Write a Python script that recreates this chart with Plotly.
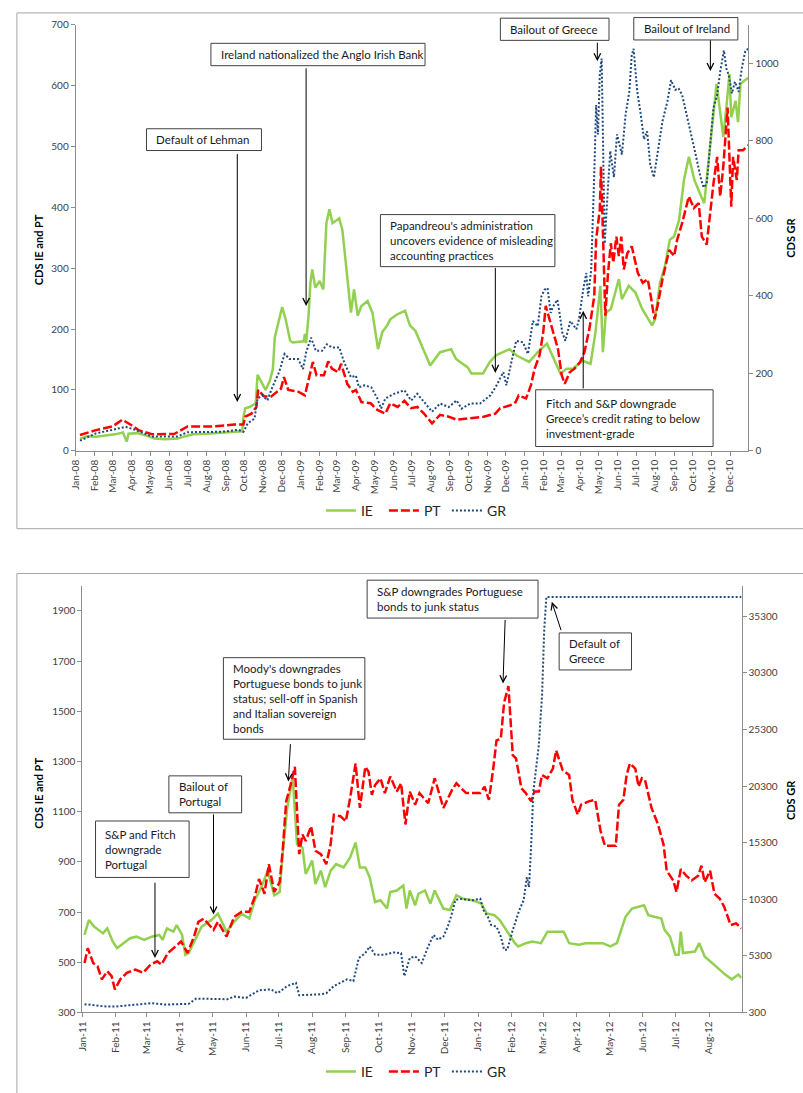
import plotly.graph_objects as go

W, H = 803, 1093
OFF = 0  # body margin is removed in the page, so figure pixels equal page pixels
FONT = "Lato"

# ---------------- 2008-2010 panel ----------------
top_ie_dates = [
    "2008-01-08", "2008-01-20", "2008-02-03", "2008-02-20", "2008-03-05", "2008-03-18", "2008-03-24",
    "2008-03-27", "2008-04-10", "2008-04-25", "2008-05-08", "2008-05-25", "2008-06-15", "2008-06-28",
    "2008-07-10", "2008-08-01", "2008-08-20", "2008-09-10", "2008-09-28", "2008-09-30", "2008-10-03",
    "2008-10-10", "2008-10-20", "2008-10-23", "2008-10-30", "2008-11-05", "2008-11-12", "2008-11-17",
    "2008-11-20", "2008-11-25", "2008-12-02", "2008-12-08", "2008-12-15", "2008-12-19", "2009-01-06",
    "2009-01-08", "2009-01-10", "2009-01-14", "2009-01-17", "2009-01-20", "2009-01-25", "2009-02-01",
    "2009-02-07", "2009-02-12", "2009-02-17", "2009-02-22", "2009-03-05", "2009-03-10", "2009-03-15",
    "2009-03-24", "2009-03-29", "2009-04-04", "2009-04-10", "2009-04-20", "2009-04-28", "2009-05-07",
    "2009-05-14", "2009-05-22", "2009-05-27", "2009-06-07", "2009-06-20", "2009-06-28", "2009-07-07",
    "2009-07-20", "2009-07-31", "2009-08-16", "2009-09-03", "2009-09-11", "2009-09-30", "2009-10-06",
    "2009-10-25", "2009-11-05", "2009-11-15", "2009-12-07", "2009-12-18", "2010-01-08", "2010-01-22",
    "2010-02-06", "2010-02-20", "2010-02-28", "2010-03-10", "2010-03-20", "2010-04-05", "2010-04-18",
    "2010-04-26", "2010-04-30", "2010-05-04", "2010-05-08", "2010-05-13", "2010-05-21", "2010-06-03",
    "2010-06-08", "2010-06-19", "2010-06-30", "2010-07-11", "2010-07-27", "2010-08-01", "2010-08-09",
    "2010-08-17", "2010-08-25", "2010-09-01", "2010-09-09", "2010-09-17", "2010-09-25", "2010-10-04",
    "2010-10-15", "2010-10-20", "2010-10-25", "2010-11-01", "2010-11-09", "2010-11-14", "2010-11-20",
    "2010-11-25", "2010-11-30", "2010-12-03", "2010-12-10", "2010-12-14", "2010-12-18", "2010-12-24",
    "2010-12-31",
]
top_ie = [
    20, 24, 23, 25, 27, 30, 15,
    28, 29, 25, 20, 19, 20, 24,
    27, 28, 29, 30, 32, 55, 70,
    72, 78, 125, 110, 100, 115, 135,
    186, 209, 236, 215, 181, 178, 180,
    192, 177, 222, 276, 298, 268, 279,
    265, 374, 397, 374, 382, 363, 314,
    227, 265, 222, 238, 246, 227, 167,
    195, 206, 216, 224, 230, 206, 197,
    167, 140, 162, 167, 151, 137, 127,
    127, 146, 157, 167, 157, 146, 162,
    176, 146, 127, 135, 135, 148, 143,
    195, 238, 271, 162, 227, 233, 282,
    249, 271, 260, 233, 206, 216, 276,
    303, 347, 352, 379, 445, 483, 445,
    418, 407, 456, 521, 603, 564, 516,
    564, 619, 548, 575, 540, 603, 608,
    613,
]

top_pt_dates = [
    "2008-01-08", "2008-02-03", "2008-03-01", "2008-03-17", "2008-04-01", "2008-04-12", "2008-05-05",
    "2008-06-10", "2008-07-01", "2008-08-10", "2008-09-15", "2008-09-30", "2008-10-03", "2008-10-13",
    "2008-10-21", "2008-10-24", "2008-11-03", "2008-11-14", "2008-11-30", "2008-12-05", "2008-12-12",
    "2008-12-28", "2009-01-08", "2009-01-16", "2009-01-21", "2009-01-27", "2009-02-08", "2009-02-15",
    "2009-02-21", "2009-03-03", "2009-03-08", "2009-03-18", "2009-03-27", "2009-04-01", "2009-04-10",
    "2009-04-25", "2009-05-06", "2009-05-19", "2009-05-27", "2009-06-08", "2009-06-19", "2009-06-30",
    "2009-07-10", "2009-07-21", "2009-08-03", "2009-08-16", "2009-08-30", "2009-09-12", "2009-10-04",
    "2009-10-26", "2009-11-14", "2009-11-22", "2009-12-09", "2009-12-17", "2009-12-22", "2010-01-03",
    "2010-01-11", "2010-01-17", "2010-01-25", "2010-01-31", "2010-02-04", "2010-02-10", "2010-02-19",
    "2010-02-24", "2010-03-02", "2010-03-07", "2010-03-15", "2010-03-23", "2010-04-01", "2010-04-08",
    "2010-04-16", "2010-04-24", "2010-04-27", "2010-05-03", "2010-05-05", "2010-05-08", "2010-05-12",
    "2010-05-16", "2010-05-21", "2010-05-25", "2010-05-30", "2010-06-03", "2010-06-07", "2010-06-11",
    "2010-06-17", "2010-06-24", "2010-07-04", "2010-07-12", "2010-07-20", "2010-07-25", "2010-07-31",
    "2010-08-05", "2010-08-13", "2010-08-24", "2010-09-01", "2010-09-06", "2010-09-14", "2010-09-25",
    "2010-10-03", "2010-10-11", "2010-10-16", "2010-10-24", "2010-10-30", "2010-11-04", "2010-11-10",
    "2010-11-15", "2010-11-20", "2010-11-24", "2010-11-27", "2010-12-03", "2010-12-06", "2010-12-12",
    "2010-12-15", "2010-12-22", "2010-12-31",
]
top_pt = [
    26, 34, 40, 51, 42, 34, 27,
    28, 40, 40, 43, 43, 56, 61,
    72, 100, 89, 89, 102, 121, 100,
    97, 91, 127, 146, 124, 124, 147,
    135, 129, 143, 110, 97, 100, 80,
    78, 67, 61, 78, 72, 82, 70,
    72, 61, 45, 59, 56, 51, 53,
    56, 61, 70, 75, 80, 91, 86,
    108, 135, 157, 195, 238, 216, 184,
    167, 124, 110, 129, 135, 146, 162,
    200, 254, 347, 396, 467, 374, 222,
    287, 341, 309, 352, 320, 352, 298,
    325, 336, 292, 276, 282, 254, 216,
    238, 282, 330, 320, 347, 374, 418,
    399, 407, 352, 339, 396, 439, 483,
    418, 467, 516, 564, 401, 483, 445,
    494, 494, 502,
]

top_gr_dates = [
    "2008-01-08", "2008-02-03", "2008-03-01", "2008-03-22", "2008-04-07", "2008-05-04", "2008-06-15",
    "2008-07-01", "2008-08-25", "2008-09-22", "2008-09-30", "2008-10-07", "2008-10-18", "2008-10-23",
    "2008-10-31", "2008-11-08", "2008-11-16", "2008-11-27", "2008-12-06", "2008-12-14", "2008-12-28",
    "2009-01-05", "2009-01-10", "2009-01-18", "2009-01-26", "2009-02-05", "2009-02-13", "2009-02-21",
    "2009-03-05", "2009-03-13", "2009-03-24", "2009-04-01", "2009-04-06", "2009-04-15", "2009-04-26",
    "2009-05-06", "2009-05-12", "2009-05-19", "2009-06-02", "2009-06-19", "2009-06-30", "2009-07-10",
    "2009-07-21", "2009-08-03", "2009-08-16", "2009-08-30", "2009-09-12", "2009-09-20", "2009-10-04",
    "2009-10-20", "2009-11-06", "2009-11-16", "2009-11-27", "2009-12-02", "2009-12-10", "2009-12-18",
    "2009-12-29", "2010-01-06", "2010-01-14", "2010-01-22", "2010-01-28", "2010-02-02", "2010-02-07",
    "2010-02-12", "2010-02-16", "2010-02-23", "2010-02-26", "2010-03-03", "2010-03-08", "2010-03-16",
    "2010-03-26", "2010-03-30", "2010-04-06", "2010-04-11", "2010-04-14", "2010-04-19", "2010-04-24",
    "2010-04-27", "2010-04-30", "2010-05-03", "2010-05-06", "2010-05-08", "2010-05-11", "2010-05-15",
    "2010-05-20", "2010-05-26", "2010-05-31", "2010-06-08", "2010-06-14", "2010-06-20", "2010-06-24",
    "2010-06-27", "2010-07-03", "2010-07-08", "2010-07-14", "2010-07-19", "2010-07-24", "2010-07-30",
    "2010-08-05", "2010-08-13", "2010-08-21", "2010-08-27", "2010-09-03", "2010-09-08", "2010-09-14",
    "2010-09-19", "2010-09-27", "2010-10-06", "2010-10-14", "2010-10-19", "2010-10-24", "2010-10-30",
    "2010-11-04", "2010-11-10", "2010-11-15", "2010-11-21", "2010-11-25", "2010-11-29", "2010-12-04",
    "2010-12-09", "2010-12-15", "2010-12-20", "2010-12-26", "2010-12-31",
]
top_gr = [
    26, 45, 54, 62, 54, 37, 37,
    48, 49, 54, 49, 71, 83, 135,
    143, 130, 164, 203, 250, 237, 237,
    211, 254, 292, 258, 258, 275, 267,
    267, 228, 190, 194, 164, 169, 164,
    135, 109, 135, 147, 156, 130, 147,
    126, 101, 122, 113, 130, 109, 122,
    122, 143, 169, 203, 169, 228, 284,
    280, 250, 335, 322, 399, 416, 420,
    356, 373, 390, 361, 305, 284, 335,
    314, 339, 416, 459, 399, 467, 714,
    893, 817, 970, 1013, 800, 535, 646,
    774, 706, 817, 765, 868, 927, 1021,
    1038, 927, 876, 804, 825, 740, 706,
    765, 851, 902, 957, 932, 936, 919,
    885, 834, 765, 706, 680, 689, 791,
    885, 919, 979, 1034, 987, 970, 923,
    953, 927, 987, 1034, 1038,
]

# ---------------- 2011-2012 panel ----------------
bot_ie_dates = [
    "2011-01-03", "2011-01-07", "2011-01-12", "2011-01-20", "2011-01-24", "2011-01-29", "2011-02-02",
    "2011-02-08", "2011-02-14", "2011-02-20", "2011-02-27", "2011-03-06", "2011-03-13", "2011-03-16",
    "2011-03-20", "2011-03-26", "2011-03-29", "2011-04-03", "2011-04-06", "2011-04-09", "2011-04-15",
    "2011-04-21", "2011-04-30", "2011-05-06", "2011-05-14", "2011-05-21", "2011-05-28", "2011-06-04",
    "2011-06-09", "2011-06-15", "2011-06-21", "2011-06-27", "2011-07-02", "2011-07-05", "2011-07-09",
    "2011-07-14", "2011-07-18", "2011-07-23", "2011-07-26", "2011-08-01", "2011-08-04", "2011-08-09",
    "2011-08-13", "2011-08-18", "2011-08-23", "2011-08-30", "2011-09-05", "2011-09-10", "2011-09-14",
    "2011-09-19", "2011-09-23", "2011-09-28", "2011-10-03", "2011-10-09", "2011-10-12", "2011-10-18",
    "2011-10-24", "2011-10-27", "2011-10-30", "2011-11-04", "2011-11-07", "2011-11-13", "2011-11-18",
    "2011-11-22", "2011-11-30", "2011-12-06", "2011-12-12", "2011-12-18", "2011-12-27", "2012-01-04",
    "2012-01-09", "2012-01-16", "2012-01-21", "2012-01-27", "2012-02-01", "2012-02-04", "2012-02-07",
    "2012-02-14", "2012-02-20", "2012-02-28", "2012-03-05", "2012-03-13", "2012-03-20", "2012-03-25",
    "2012-04-03", "2012-04-09", "2012-04-25", "2012-05-02", "2012-05-08", "2012-05-11", "2012-05-16",
    "2012-05-22", "2012-06-02", "2012-06-06", "2012-06-18", "2012-06-21", "2012-06-26", "2012-07-01",
    "2012-07-04", "2012-07-06", "2012-07-08", "2012-07-19", "2012-07-23", "2012-07-28", "2012-08-04",
    "2012-08-10", "2012-08-16", "2012-08-22", "2012-08-28", "2012-08-31",
]
bot_ie = [
    609, 668, 642, 615, 635, 583, 556,
    576, 596, 602, 589, 602, 609, 589,
    635, 622, 648, 609, 530, 537, 589,
    642, 668, 694, 622, 661, 694, 674,
    747, 799, 865, 767, 780, 944, 1115,
    1240, 970, 957, 852, 905, 812, 865,
    799, 865, 891, 878, 918, 977, 878,
    878, 839, 740, 747, 714, 780, 786,
    806, 714, 786, 727, 773, 786, 734,
    786, 714, 708, 767, 753, 747, 734,
    694, 688, 668, 629, 596, 576, 563,
    576, 583, 576, 622, 622, 622, 576,
    570, 576, 576, 563, 576, 615, 681,
    714, 727, 688, 674, 629, 602, 530,
    530, 622, 537, 543, 576, 523, 497,
    471, 451, 432, 451, 438,
]

bot_pt_dates = [
    "2011-01-03", "2011-01-06", "2011-01-11", "2011-01-15", "2011-01-19", "2011-01-24", "2011-01-28",
    "2011-01-31", "2011-02-05", "2011-02-11", "2011-02-19", "2011-02-26", "2011-03-05", "2011-03-11",
    "2011-03-15", "2011-03-21", "2011-03-28", "2011-04-02", "2011-04-08", "2011-04-14", "2011-04-18",
    "2011-04-23", "2011-05-02", "2011-05-06", "2011-05-14", "2011-05-21", "2011-05-28", "2011-06-04",
    "2011-06-09", "2011-06-13", "2011-06-18", "2011-06-22", "2011-06-27", "2011-07-02", "2011-07-05",
    "2011-07-08", "2011-07-12", "2011-07-16", "2011-07-20", "2011-07-23", "2011-07-26", "2011-07-31",
    "2011-08-04", "2011-08-09", "2011-08-14", "2011-08-18", "2011-08-21", "2011-08-27", "2011-09-01",
    "2011-09-05", "2011-09-10", "2011-09-14", "2011-09-19", "2011-09-22", "2011-09-25", "2011-09-28",
    "2011-10-03", "2011-10-07", "2011-10-12", "2011-10-18", "2011-10-22", "2011-10-26", "2011-10-30",
    "2011-11-04", "2011-11-08", "2011-11-16", "2011-11-22", "2011-11-30", "2011-12-08", "2011-12-12",
    "2011-12-21", "2012-01-03", "2012-01-07", "2012-01-11", "2012-01-15", "2012-01-18", "2012-01-22",
    "2012-01-25", "2012-01-29", "2012-02-02", "2012-02-05", "2012-02-10", "2012-02-14", "2012-02-19",
    "2012-02-22", "2012-02-26", "2012-02-29", "2012-03-05", "2012-03-10", "2012-03-13", "2012-03-19",
    "2012-03-25", "2012-03-28", "2012-04-02", "2012-04-05", "2012-04-12", "2012-04-18", "2012-04-23",
    "2012-04-27", "2012-05-07", "2012-05-10", "2012-05-14", "2012-05-17", "2012-05-20", "2012-05-25",
    "2012-05-28", "2012-05-31", "2012-06-03", "2012-06-09", "2012-06-15", "2012-06-20", "2012-06-23",
    "2012-06-29", "2012-07-02", "2012-07-06", "2012-07-11", "2012-07-16", "2012-07-22", "2012-07-25",
    "2012-07-28", "2012-08-02", "2012-08-06", "2012-08-11", "2012-08-15", "2012-08-21", "2012-08-26",
    "2012-08-31",
]
bot_pt = [
    497, 556, 497, 484, 432, 464, 445,
    392, 432, 458, 471, 458, 491, 504,
    491, 537, 563, 583, 537, 602, 661,
    674, 629, 661, 602, 681, 701, 701,
    760, 832, 773, 891, 780, 819, 957,
    1141, 1206, 1279, 931, 1009, 983, 1042,
    944, 931, 891, 970, 1088, 1082, 1062,
    1154, 1292, 1115, 1279, 1259, 1167, 1206,
    1233, 1174, 1240, 1180, 1213, 1049, 1180,
    1128, 1174, 1134, 1233, 1115, 1187, 1213,
    1174, 1174, 1200, 1147, 1272, 1384, 1391,
    1535, 1600, 1325, 1312, 1193, 1174, 1141,
    1180, 1180, 1246, 1233, 1272, 1344, 1266,
    1246, 1147, 1088, 1128, 1141, 1147, 1023,
    964, 964, 1128, 1147, 1246, 1292, 1272,
    1200, 1233, 1226, 1115, 1049, 970, 865,
    826, 780, 871, 845, 826, 845, 885,
    819, 865, 773, 753, 721, 648, 655,
    635,
]

bot_gr_dates = [
    "2011-01-03", "2011-01-11", "2011-01-23", "2011-02-01", "2011-02-22", "2011-03-06", "2011-03-18",
    "2011-04-09", "2011-04-16", "2011-05-06", "2011-05-15", "2011-05-21", "2011-06-01", "2011-06-13",
    "2011-06-24", "2011-06-30", "2011-07-09", "2011-07-17", "2011-07-20", "2011-08-09", "2011-08-14",
    "2011-08-21", "2011-09-02", "2011-09-08", "2011-09-13", "2011-09-19", "2011-09-23", "2011-09-28",
    "2011-10-07", "2011-10-15", "2011-10-22", "2011-10-25", "2011-10-30", "2011-11-04", "2011-11-10",
    "2011-11-16", "2011-11-21", "2011-11-25", "2011-11-30", "2011-12-04", "2011-12-07", "2011-12-11",
    "2011-12-15", "2011-12-27", "2012-01-03", "2012-01-06", "2012-01-10", "2012-01-13", "2012-01-18",
    "2012-01-22", "2012-01-25", "2012-01-28", "2012-02-02", "2012-02-08", "2012-02-12", "2012-02-15",
    "2012-02-17", "2012-02-19", "2012-02-21", "2012-02-26", "2012-02-29", "2012-03-02", "2012-03-04",
    "2012-08-31",
]
bot_gr = [
    1034, 947, 824, 824, 973, 1122, 999,
    1060, 1524, 1524, 1471, 1699, 1585, 2258,
    2345, 1996, 2634, 2922, 1821, 1908, 1996,
    2634, 3220, 3071, 5108, 5545, 6131, 5405,
    5405, 5606, 5545, 3508, 5108, 5256, 4671,
    6131, 7153, 6716, 7005, 7879, 8753, 10213,
    10353, 10213, 10353, 9338, 8753, 8027, 7879,
    7005, 5842, 5842, 7590, 9338, 10213, 12250,
    11375, 15160, 19830, 23902, 28273, 34102, 37015,
    37015,
]

series_names = ["IE", "PT", "GR"]
series_colors = ["#92D050", "#FF0000", "#1F497D"]

# annotation texts and where the arrows point (date, value on the left axis)
top_notes = [
    "Default of Lehman",
    "Ireland nationalized the Anglo Irish Bank",
    "Papandreou's administration<br>uncovers evidence of misleading<br>accounting practices",
    "Bailout of Greece",
    "Bailout of Ireland",
    "Fitch and S&P downgrade<br>Greece’s credit rating to below<br>investment-grade",
]
top_arrow_head = [("2008-09-20", 80), ("2009-01-10", 238), ("2009-11-14", 128),
                  ("2010-04-29", 640), ("2010-10-30", 624), ("2010-04-06", 230)]
top_arrow_tail = [("2008-09-20", 490), ("2009-01-10", 631), ("2009-11-14", 303),
                  ("2010-04-29", 673), ("2010-10-30", 677), ("2010-04-06", 100)]
top_boxes = [(140.7, 124, 256.7, 146), (205.7, 37.7, 421.7, 60.3), (376.7, 210.7, 552.7, 263.3),
             (497.7, 12.3, 607.3, 34.7), (632.3, 11.7, 737.3, 34.3), (533.3, 387.7, 712.3, 445)]

bot_notes = [
    "S&P and Fitch<br>downgrade<br>Portugal",
    "Bailout of<br>Portugal",
    "Moody's downgrades<br>Portuguese bonds to junk<br>status; sell-off in Spanish<br>and Italian sovereign<br>bonds",
    "S&P downgrades Portuguese<br>bonds to junk status",
    "Default of<br>Greece",
]
bot_arrow_head = [("2011-03-09", 517), ("2011-05-02", 690), ("2011-07-10", 1220),
                  ("2012-01-24", 1611), ("2012-03-09", 1936)]
bot_arrow_tail = [("2011-03-09", 823), ("2011-05-02", 1095), ("2011-07-12", 1375),
                  ("2012-01-26", 1870), ("2012-03-18", 1817)]
bot_boxes = [(89.3, 823.3, 183.7, 880.3), (163.3, 777.7, 236.7, 815), (218.3, 658.3, 361, 740.7),
             (363.3, 580, 535.7, 618.3), (557, 633.3, 630, 670.7)]


def px(x):
    return (x - OFF) / W


def py(y):
    return 1 - (y - OFF) / H


fig = go.Figure()

panels = [
    ([top_ie_dates, top_pt_dates, top_gr_dates], [top_ie, top_pt, top_gr], "x", "y", "y2", "legend"),
    ([bot_ie_dates, bot_pt_dates, bot_gr_dates], [bot_ie, bot_pt, bot_gr], "x2", "y3", "y4", "legend2"),
]
dashes = ["solid", "9px,3px", "2px,2px"]
widths = [2.5, 2.5, 2]
for dates, vals, xa, ya_left, ya_right, leg in panels:
    for i in range(3):
        fig.add_trace(go.Scatter(
            x=dates[i], y=vals[i], mode="lines", name=series_names[i],
            line=dict(color=series_colors[i], width=widths[i], dash=dashes[i]),
            xaxis=xa, yaxis=ya_right if i == 2 else ya_left, legend=leg,
        ))

tick_font = dict(family=FONT, size=10, color="#404040")
axis_common = dict(showgrid=False, zeroline=False, showline=True, linecolor="#8C8C8C", linewidth=1,
                   ticks="outside", ticklen=4, tickcolor="#8C8C8C", tickfont=tick_font)
legend_common = dict(orientation="h", xanchor="center", yanchor="middle", entrywidth=18,
                     entrywidthmode="pixels", font=dict(family=FONT, size=14, color="#262626"),
                     bgcolor="rgba(0,0,0,0)")

fig.update_layout(
    width=W, height=H, margin=dict(l=0, r=0, t=0, b=0),
    paper_bgcolor="white", plot_bgcolor="white", font=dict(family=FONT, color="#262626"),
    xaxis=dict(axis_common, type="date", domain=[px(69.3), px(748)], anchor="y",
               range=["2008-01-01", "2010-12-31"], dtick="M1", tick0="2008-01-01",
               tickformat="%b-%y", tickangle=-90),
    yaxis=dict(axis_common, domain=[py(449.3), py(19)], anchor="x", range=[0, 700], dtick=100),
    yaxis2=dict(axis_common, overlaying="y", side="right", anchor="x", range=[0, 1100], dtick=200),
    xaxis2=dict(axis_common, type="date", domain=[px(76), px(741)], anchor="y3",
                range=["2011-01-01", "2012-08-31"], dtick="M1", tick0="2011-01-01",
                tickformat="%b-%y", tickangle=-90),
    yaxis3=dict(axis_common, domain=[py(1016.7), py(585.7)], anchor="x2", range=[300, 2000],
                tick0=300, dtick=200),
    yaxis4=dict(axis_common, overlaying="y3", side="right", anchor="x2", range=[300, 38000],
                tick0=300, dtick=5000, tickformat="d"),
    legend=dict(legend_common, x=px(412), y=py(510)),
    legend2=dict(legend_common, x=px(412), y=py(1076.7)),
)

shapes = [
    dict(type="rect", xref="paper", yref="paper", x0=px(10), y0=py(528), x1=px(830), y1=py(7),
         line=dict(color="#A6A6A6", width=1), fillcolor="rgba(0,0,0,0)", layer="below"),
    dict(type="rect", xref="paper", yref="paper", x0=px(10), y0=py(1120), x1=px(830), y1=py(573.3),
         line=dict(color="#A6A6A6", width=1), fillcolor="rgba(0,0,0,0)", layer="below"),
]
annotations = []

# axis titles
for xpos, ypos, txt in [(32, 246, "CDS IE and PT"), (791, 234, "CDS GR"),
                        (32, 795, "CDS IE and PT"), (791, 802, "CDS GR")]:
    annotations.append(dict(xref="paper", yref="paper", x=px(xpos), y=py(ypos), text=f"<b>{txt}</b>",
                            showarrow=False, textangle=-90, xanchor="center", yanchor="middle",
                            font=dict(family=FONT, size=11, color="#000000")))

note_font = dict(family=FONT, size=11.5, color="#1A1A1A")
for notes, heads, tails, boxes, xr, yr in [
    (top_notes, top_arrow_head, top_arrow_tail, top_boxes, "x", "y"),
    (bot_notes, bot_arrow_head, bot_arrow_tail, bot_boxes, "x2", "y3"),
]:
    for txt, (hx, hy), (tx, ty), (x0, y0, x1, y1) in zip(notes, heads, tails, boxes):
        shapes.append(dict(type="rect", xref="paper", yref="paper", x0=px(x0), y0=py(y1), x1=px(x1),
                           y1=py(y0), line=dict(color="#404040", width=1), fillcolor="white",
                           layer="above"))
        annotations.append(dict(xref="paper", yref="paper", x=px(x0 + 8), y=py((y0 + y1) / 2),
                                text=txt, showarrow=False, xanchor="left", yanchor="middle",
                                align="left", font=note_font))
        annotations.append(dict(xref=xr, yref=yr, x=hx, y=hy, axref=xr, ayref=yr, ax=tx, ay=ty,
                                text="", showarrow=True, arrowhead=5, arrowsize=1.3, arrowwidth=1,
                                arrowcolor="#000000", standoff=0, startstandoff=0))

fig.update_layout(shapes=shapes, annotations=annotations)
fig.write_html("out.html", config={"displayModeBar": False},
               post_script="document.body.style.margin='0';document.body.style.overflow='hidden';")
